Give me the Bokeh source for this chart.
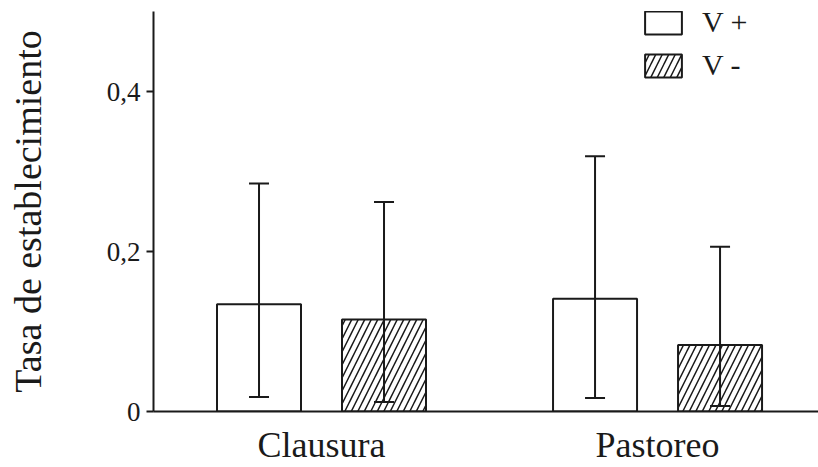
from bokeh.plotting import figure
from bokeh.models import (Range1d, FixedTicker, Whisker, TeeHead, ColumnDataSource,
                          Legend, LegendItem)
from bokeh.embed import file_html
from bokeh.resources import INLINE

# Data: establishment rate per treatment and seed condition
categories = ["Clausura", "Pastoreo"]
series = ["V +", "V -"]
v_plus = [0.134, 0.141]
v_plus_upper = [0.285, 0.319]
v_plus_lower = [0.018, 0.017]
v_minus = [0.115, 0.083]
v_minus_upper = [0.262, 0.206]
v_minus_lower = [0.012, 0.007]
y_ticks = [0, 0.2, 0.4]
y_tick_labels = ["0", "0,2", "0,4"]

FONT = "Liberation Serif"
INK = "#1a1a1a"

group_pos = [0.5, 1.5]
offset = 0.186
bar_w = 0.25

p = figure(width=818, height=467,
           x_range=Range1d(0, 1.979), y_range=Range1d(0, 0.5),
           output_backend="svg", toolbar_location=None,
           min_border_left=153, min_border_right=0,
           min_border_top=11, min_border_bottom=54)

src_plus = ColumnDataSource(dict(x=[g - offset for g in group_pos], top=v_plus,
                                 upper=v_plus_upper, lower=v_plus_lower))
src_minus = ColumnDataSource(dict(x=[g + offset for g in group_pos], top=v_minus,
                                  upper=v_minus_upper, lower=v_minus_lower))

r_plus = p.vbar(x="x", top="top", width=bar_w, source=src_plus,
                fill_color="white", line_color=INK, line_width=2)
r_minus = p.vbar(x="x", top="top", width=bar_w, source=src_minus,
                 fill_color="white", line_color=INK, line_width=2,
                 hatch_pattern="/", hatch_scale=13, hatch_weight=1.5,
                 hatch_color=INK)

# error bars drawn above the bars
for src in (src_plus, src_minus):
    p.add_layout(Whisker(source=src, base="x", upper="upper", lower="lower",
                         level="annotation",
                         line_color=INK, line_width=2,
                         upper_head=TeeHead(size=20, line_color=INK, line_width=2),
                         lower_head=TeeHead(size=20, line_color=INK, line_width=2)))

legend = Legend(items=[LegendItem(label=series[0], renderers=[r_plus]),
                       LegendItem(label=series[1], renderers=[r_minus])],
                location=(487, 329), orientation="vertical",
                glyph_width=46, glyph_height=29, label_height=29,
                label_standoff=16, spacing=9, padding=0, margin=0,
                border_line_color=None, background_fill_alpha=0,
                label_text_font=FONT, label_text_font_size="30px",
                label_text_color=INK)
p.add_layout(legend)

# axes
p.xgrid.visible = False
p.ygrid.visible = False
p.outline_line_color = None

p.xaxis.ticker = FixedTicker(ticks=group_pos)
p.xaxis.major_label_overrides = {g: c for g, c in zip(group_pos, categories)}
p.xaxis.major_tick_out = 0
p.xaxis.major_tick_in = 0
p.xaxis.minor_tick_line_color = None
p.xaxis.major_label_text_font = FONT
p.xaxis.major_label_text_font_size = "36px"
p.xaxis.major_label_text_color = INK
p.xaxis.major_label_standoff = 13
p.xaxis.axis_line_width = 2
p.xaxis.axis_line_color = INK

p.yaxis.ticker = FixedTicker(ticks=y_ticks)
p.yaxis.major_label_overrides = {t: l for t, l in zip(y_ticks, y_tick_labels)}
p.yaxis.major_tick_out = 7
p.yaxis.major_tick_in = 0
p.yaxis.major_tick_line_width = 2
p.yaxis.major_tick_line_color = INK
p.yaxis.minor_tick_line_color = None
p.yaxis.major_label_text_font = FONT
p.yaxis.major_label_text_font_size = "27px"
p.yaxis.major_label_text_color = INK
p.yaxis.major_label_standoff = 6
p.yaxis.axis_line_width = 2
p.yaxis.axis_line_color = INK
p.yaxis.axis_label = "Tasa de establecimiento"
p.yaxis.axis_label_text_font = FONT
p.yaxis.axis_label_text_font_size = "38px"
p.yaxis.axis_label_text_font_style = "normal"
p.yaxis.axis_label_text_color = INK
p.yaxis.axis_label_standoff = 55

open("out.html", "w").write(file_html(p, INLINE))
